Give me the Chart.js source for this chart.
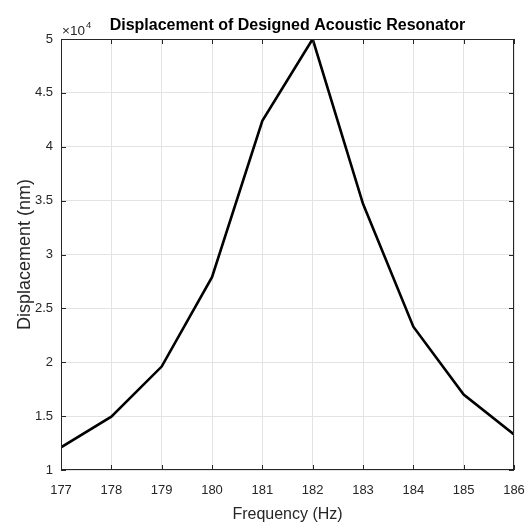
<!DOCTYPE html>
<html>
<head>
<meta charset="utf-8">
<script src="https://cdn.jsdelivr.net/npm/chart.js@4"></script>
<style>
  html, body { margin: 0; padding: 0; background: #fff; }
  #wrap { width: 531px; height: 525px; }
</style>
</head>
<body>
<div id="wrap"><canvas id="chart" width="531" height="525"></canvas></div>
<script>
// frequency (Hz) and displacement (nm)
const freqs = [177, 178, 179, 180, 181, 182, 183, 184, 185, 186];
const displacement = [12100, 14950, 19600, 27900, 42400, 50000, 34700, 23300, 17000, 13300];
const xTicks = [177, 178, 179, 180, 181, 182, 183, 184, 185, 186];
const yTicks = [1, 1.5, 2, 2.5, 3, 3.5, 4, 4.5, 5]; // x 10^4

const axisColor = '#262626';
const gridColor = '#e3e3e3';
const fontFam = '"Liberation Sans", Arial, sans-serif';

// MATLAB-ish inner tick marks, box and exponent label
const matlabBits = {
  id: 'matlabBits',
  afterDatasetsDraw(chart) {
    const {ctx, chartArea: a, scales: {x, y}} = chart;
    ctx.save();
    ctx.strokeStyle = axisColor;
    ctx.lineWidth = 1;
    ctx.beginPath();
    xTicks.forEach(v => {
      const px = Math.round(x.getPixelForValue(v)) + 0.5;
      ctx.moveTo(px, a.bottom); ctx.lineTo(px, a.bottom - 5);
      ctx.moveTo(px, a.top); ctx.lineTo(px, a.top + 5);
    });
    yTicks.forEach(v => {
      const py = Math.round(y.getPixelForValue(v * 1e4)) + 0.5;
      ctx.moveTo(a.left, py); ctx.lineTo(a.left + 5, py);
      ctx.moveTo(a.right, py); ctx.lineTo(a.right - 5, py);
    });
    ctx.stroke();
    ctx.strokeRect(a.left + 0.5, a.top + 0.5, a.right - a.left - 1, a.bottom - a.top - 1);

    // x10^4
    ctx.fillStyle = axisColor;
    ctx.textBaseline = 'alphabetic';
    ctx.textAlign = 'left';
    ctx.font = '13.5px ' + fontFam;
    ctx.fillText('\u00d710', a.left + 1, a.top - 4);
    const w = ctx.measureText('\u00d710').width;
    ctx.font = '9.5px ' + fontFam;
    ctx.fillText('4', a.left + 1 + w + 1, a.top - 11);
    ctx.restore();
  }
};

new Chart(document.getElementById('chart'), {
  type: 'line',
  data: {
    labels: freqs,
    datasets: [{
      data: freqs.map((f, i) => ({x: f, y: displacement[i]})),
      borderColor: '#000',
      borderWidth: 2.6,
      pointRadius: 0,
      tension: 0,
      fill: false
    }]
  },
  options: {
    responsive: false,
    animation: false,
    layout: { padding: { left: 0, right: 17, top: 0, bottom: 0 } },
    plugins: {
      legend: { display: false },
      tooltip: { enabled: false },
      title: {
        display: true,
        fullSize: false,
        text: 'Displacement of Designed Acoustic Resonator',
        color: '#000',
        font: { family: fontFam, size: 16, weight: 'bold' },
        padding: { top: 15.8, bottom: 4 }
      }
    },
    scales: {
      x: {
        type: 'linear',
        min: 177,
        max: 186,
        afterBuildTicks: s => { s.ticks = xTicks.map(v => ({value: v})); },
        afterFit: s => { s.height = 55; s.paddingLeft = 0; s.paddingRight = 0; },
        grid: { color: gridColor, drawTicks: false },
        border: { display: false },
        ticks: {
          color: axisColor,
          font: { family: fontFam, size: 13 },
          padding: 13,
          maxRotation: 0,
          callback: v => String(v)
        },
        title: {
          display: true,
          text: 'Frequency (Hz)',
          color: axisColor,
          font: { family: fontFam, size: 16 },
          padding: { top: 0, bottom: 1 }
        }
      },
      y: {
        min: 10000,
        max: 50000,
        afterBuildTicks: s => { s.ticks = yTicks.map(v => ({value: v * 1e4})); },
        afterFit: s => { s.width = 61; s.paddingTop = 0; s.paddingBottom = 0; },
        grid: { color: gridColor, drawTicks: false },
        border: { display: false },
        ticks: {
          color: axisColor,
          font: { family: fontFam, size: 13 },
          padding: 8,
          callback: v => String(v / 1e4)
        },
        title: {
          display: true,
          text: 'Displacement (nm)',
          color: axisColor,
          font: { family: fontFam, size: 18 },
          padding: { top: 14.5, bottom: 0 }
        }
      }
    }
  },
  plugins: [matlabBits]
});
</script>
</body>
</html>
